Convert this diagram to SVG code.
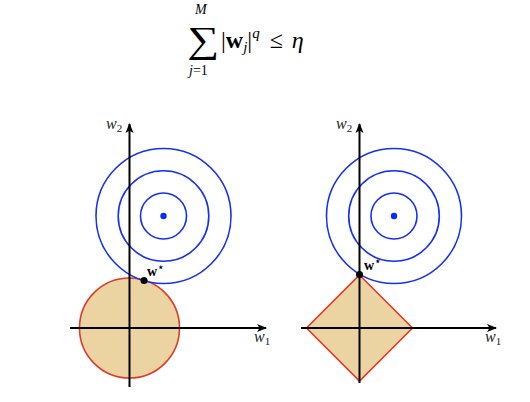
<svg xmlns="http://www.w3.org/2000/svg" width="530" height="402" viewBox="0 0 530 402">
<defs>
<marker id="arr" viewBox="0 0 10 10" refX="9" refY="5" markerWidth="10" markerHeight="10" markerUnits="userSpaceOnUse" orient="auto">
<path d="M0,1 L10,5 L0,9 L2.5,5 Z" fill="#000"/>
</marker>
</defs>
<style>
.lvl{fill:none;stroke:#1530ee;stroke-width:1.6}
.reg{fill:#ecd3a2;stroke:#e03a28;stroke-width:1.6}
.ax{stroke:#000;stroke-width:2;fill:none;marker-end:url(#arr)}
.lab{font-family:"Liberation Serif",serif;font-style:italic;font-size:16px;fill:#222}
.sub{font-family:"Liberation Serif",serif;font-size:11px;fill:#222}
.ws{font-family:"Liberation Serif",serif;font-weight:bold;font-size:14px;fill:#000}
.f{font-family:"Liberation Serif",serif;fill:#000}
</style>
<rect width="530" height="402" fill="#fff"/>
<g id="formula">
<text class="f" x="0" y="0" font-size="32" transform="translate(187,52) scale(1.4,1.15)">∑</text>
<text class="f" x="195" y="14" font-size="14" font-style="italic">M</text>
<text class="f" x="189" y="75" font-size="14"><tspan font-style="italic">j</tspan>=1</text>
<text class="f" x="221" y="48" font-size="24">|<tspan font-weight="bold">w</tspan><tspan font-style="italic" font-size="15" dy="4">j</tspan><tspan dy="-4">|</tspan><tspan font-style="italic" font-size="15" dy="-10">q</tspan><tspan dy="10" dx="10">≤</tspan><tspan dx="9" font-style="italic">η</tspan></text>
</g>
<g id="left-plot">
<circle class="reg" cx="129.5" cy="328" r="50"/>
<circle class="lvl" cx="163.5" cy="216" r="67.5"/>
<circle class="lvl" cx="163.5" cy="216" r="45.3"/>
<circle class="lvl" cx="163.5" cy="216" r="23"/>
<circle cx="163.5" cy="216" r="3.2" fill="#0a2af5"/>
</g>
<g id="right-plot">
<polygon class="reg" points="359.5,275 412.5,328 359.5,381 306.5,328"/>
<circle class="lvl" cx="394" cy="216" r="67.5"/>
<circle class="lvl" cx="394" cy="216" r="45.3"/>
<circle class="lvl" cx="394" cy="216" r="23"/>
<circle cx="394" cy="216" r="3.2" fill="#0a2af5"/>
</g>
<g id="connectors">
<line class="ax" x1="70" y1="328" x2="266" y2="328"/>
<line class="ax" x1="129.5" y1="387" x2="129.5" y2="124"/>
<line class="ax" x1="301" y1="328" x2="496" y2="328"/>
<line class="ax" x1="359.5" y1="383" x2="359.5" y2="124"/>
</g>
<g id="labels">
<text class="lab" x="106" y="129">w<tspan class="sub" font-style="normal" dy="3">2</tspan></text>
<text class="lab" x="254" y="342">w<tspan class="sub" font-style="normal" dy="3">1</tspan></text>
<text class="lab" x="336" y="129">w<tspan class="sub" font-style="normal" dy="3">2</tspan></text>
<text class="lab" x="485" y="342">w<tspan class="sub" font-style="normal" dy="3">1</tspan></text>
</g>
<g id="w-star-left">
<circle cx="144" cy="280.5" r="3.5" fill="#000"/>
<text class="ws" x="147" y="276">w<tspan font-size="12" font-weight="normal" dy="-5">⋆</tspan></text>
</g>
<g id="w-star-right">
<circle cx="359.5" cy="274.5" r="3.5" fill="#000"/>
<text class="ws" x="364" y="270">w<tspan font-size="12" font-weight="normal" dy="-5">⋆</tspan></text>
</g>
</svg>
